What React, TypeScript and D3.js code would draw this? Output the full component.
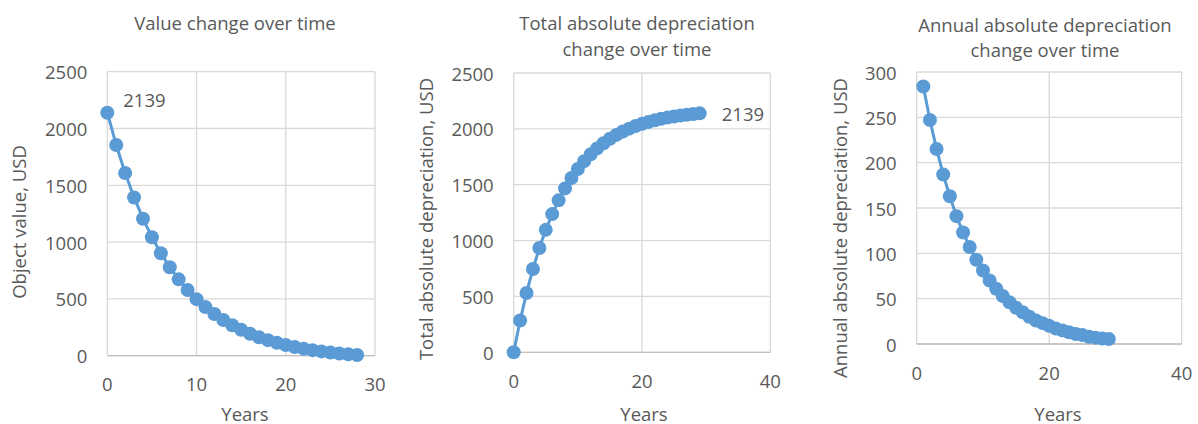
import React from "react";
import * as d3 from "d3";

const yearsValue = [0,1,2,3,4,5,6,7,8,9,10,11,12,13,14,15,16,17,18,19,20,21,22,23,24,25,26,27,28];
const objectValue = [2139,1855,1608,1393,1206,1043,902,779,672,579,498,428,367,314,268,228,193,163,137,114,94,77,62,49,38,28,20,13,6];

const yearsTotal = [0,1,2,3,4,5,6,7,8,9,10,11,12,13,14,15,16,17,18,19,20,21,22,23,24,25,26,27,28,29];
const totalDepreciation = [0,284,531,746,933,1096,1237,1360,1467,1560,1641,1711,1772,1825,1871,1911,1946,1976,2002,2025,2045,2062,2077,2090,2101,2111,2119,2126,2133,2139];

const yearsAnnual = [1,2,3,4,5,6,7,8,9,10,11,12,13,14,15,16,17,18,19,20,21,22,23,24,25,26,27,28,29];
const annualDepreciation = [284,247,215,187,163,141,123,107,93,81,70,61,53,46,40,35,30,26,23,20,17,15,13,11,10,8,7,6,5.5];

const xTicks1 = [0,10,20,30];
const yTicks1 = [0,500,1000,1500,2000,2500];
const xTicks2 = [0,20,40];
const yTicks2 = [0,500,1000,1500,2000,2500];
const xTicks3 = [0,20,40];
const yTicks3 = [0,50,100,150,200,250,300];

const titles1 = ["Value change over time"];
const titles2 = ["Total absolute depreciation", "change over time"];
const titles3 = ["Annual absolute depreciation", "change over time"];

const FONT = "'Open Sans', sans-serif";
const TXT = "#595959";
const BLUE = "#5B9BD5";
const GRID = "#D9D9D9";
const FS = 18.5;

type PanelProps = {
  xs: number[]; ys: number[];
  xDomain: [number, number]; yDomain: [number, number];
  xTicks: number[]; yTicks: number[];
  left: number; right: number; top: number; bottom: number;
  titleLines: string[]; titleX: number; titleY: number;
  yLabel: string; yLabelX: number; yLabelY: number;
  xLabelX: number;
  labelIndex: number; labelDx: number; labelDy: number;
};

function Panel(p: PanelProps) {
  const x = d3.scaleLinear().domain(p.xDomain).range([p.left, p.right]);
  const y = d3.scaleLinear().domain(p.yDomain).range([p.bottom, p.top]);
  const line = d3.line<number>().x((_, i) => x(p.xs[i])).y((d) => y(d));
  const li = p.labelIndex;
  return (
    <g fontFamily={FONT} fill={TXT}>
      {p.titleLines.map((t, i) => (
        <text key={t} x={p.titleX} y={p.titleY + i * 25.6} textAnchor="middle" dominantBaseline="central" fontSize={FS}>{t}</text>
      ))}
      {p.yTicks.map((t) => (
        <line key={"gy" + t} x1={p.left} x2={p.right} y1={y(t)} y2={y(t)} stroke={GRID} strokeWidth={1.3} />
      ))}
      {p.xTicks.map((t) => (
        <line key={"gx" + t} x1={x(t)} x2={x(t)} y1={p.top} y2={p.bottom} stroke={GRID} strokeWidth={1.3} />
      ))}
      <line x1={p.left} x2={p.right} y1={p.bottom} y2={p.bottom} stroke="#BFBFBF" strokeWidth={1.3} />
      {p.yTicks.map((t) => (
        <text key={"ty" + t} x={p.left - 20} y={y(t)} textAnchor="end" dominantBaseline="central" fontSize={FS}>{t}</text>
      ))}
      {p.xTicks.map((t) => (
        <text key={"tx" + t} x={x(t)} y={p.bottom + 28} textAnchor="middle" dominantBaseline="central" fontSize={FS}>{t}</text>
      ))}
      <text transform={`translate(${p.yLabelX},${p.yLabelY}) rotate(-90)`} textAnchor="middle" dominantBaseline="central" fontSize={FS}>{p.yLabel}</text>
      <text x={p.xLabelX} y={413} textAnchor="middle" dominantBaseline="central" fontSize={FS}>Years</text>
      <path d={line(p.ys) || ""} fill="none" stroke={BLUE} strokeWidth={3} strokeLinejoin="round" />
      {p.ys.map((v, i) => (
        <circle key={i} cx={x(p.xs[i])} cy={y(v)} r={7} fill={BLUE} />
      ))}
      {li >= 0 && li < p.ys.length ? (
        <text x={x(p.xs[li]) + p.labelDx} y={y(p.ys[li]) + p.labelDy} textAnchor="start" dominantBaseline="central" fontSize={FS}>{Math.round(p.ys[li])}</text>
      ) : null}
    </g>
  );
}

export default function App() {
  return (
    <svg width={1198} height={424} style={{ position: "absolute", left: 0, top: 0, background: "#fff" }}>
      <Panel xs={yearsValue} ys={objectValue} xDomain={[0, 30]} yDomain={[0, 2500]}
        xTicks={xTicks1} yTicks={yTicks1} left={107.3} right={375} top={71.7} bottom={355.7}
        titleLines={titles1} titleX={235} titleY={22.5}
        yLabel="Object value, USD" yLabelX={18} yLabelY={222} xLabelX={245}
        labelIndex={0} labelDx={16} labelDy={-13} />
      <Panel xs={yearsTotal} ys={totalDepreciation} xDomain={[0, 40]} yDomain={[0, 2500]}
        xTicks={xTicks2} yTicks={yTicks2} left={513.7} right={770.3} top={73} bottom={352.3}
        titleLines={titles2} titleX={637} titleY={22.7}
        yLabel="Total absolute depreciation, USD" yLabelX={425} yLabelY={219} xLabelX={644}
        labelIndex={29} labelDx={22} labelDy={0} />
      <Panel xs={yearsAnnual} ys={annualDepreciation} xDomain={[0, 40]} yDomain={[0, 300]}
        xTicks={xTicks3} yTicks={yTicks3} left={916.7} right={1181.7} top={72} bottom={344}
        titleLines={titles3} titleX={1045} titleY={24}
        yLabel="Annual absolute depreciation, USD" yLabelX={839} yLabelY={228} xLabelX={1058}
        labelIndex={-1} labelDx={0} labelDy={0} />
    </svg>
  );
}
